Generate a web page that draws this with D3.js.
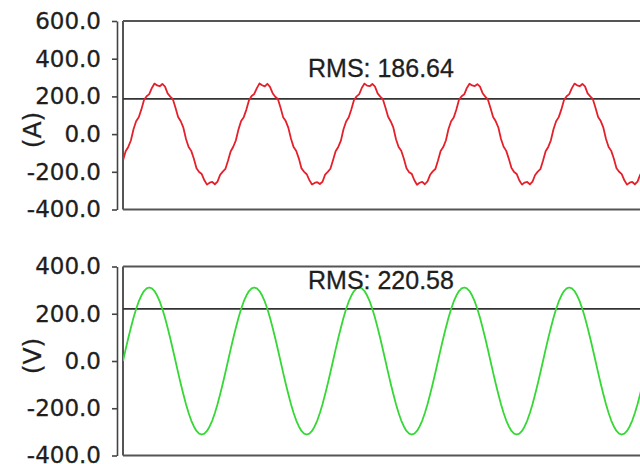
<!DOCTYPE html>
<html>
<head>
<meta charset="utf-8">
<script src="https://cdn.jsdelivr.net/npm/d3@7"></script>
<style>
  html, body { margin: 0; padding: 0; background: #fff; }
  svg { display: block; }
</style>
</head>
<body>
<div id="container"></div>
<script>
const width = 640;
const height = 464;

// sample times in ms (0.5 ms steps, 5 cycles of 50 Hz)
const timeMs = d3.range(201).map(i => i * 0.5);

// current trace (A)
const currentA = [
  -140,-91,-68,-34,26,68,89,131,181,201,212,245,268,258,254,266,252,216,199,185,
  140,91,68,34,-26,-68,-89,-131,-181,-201,-212,-245,-268,-258,-254,-266,-252,-216,-199,-185,
  -141,-92,-67,-33,25,69,90,130,180,202,213,244,269,259,253,267,251,217,198,186,
  141,90,69,33,-25,-69,-90,-130,-182,-200,-213,-244,-267,-259,-255,-265,-253,-215,-200,-184,
  -139,-91,-68,-35,26,67,89,132,181,200,212,246,268,257,254,266,252,216,199,185,
  140,92,67,34,-27,-68,-88,-131,-181,-202,-211,-245,-269,-258,-253,-266,-251,-216,-198,-185,
  -140,-90,-69,-34,27,68,88,131,182,201,211,245,267,258,255,265,252,217,199,184,
  139,91,68,35,-26,-67,-89,-132,-180,-201,-212,-246,-268,-257,-254,-267,-252,-217,-199,-186,
  -141,-91,-68,-33,26,68,90,131,181,201,212,244,268,259,254,266,253,216,200,185,
  140,91,69,34,-26,-68,-89,-131,-181,-200,-212,-245,-268,-258,-254,-266,-252,-216,-199,-185,
  -140
];

// voltage trace (V)
const voltageV = [
  0,49,96,141,183,220,252,277,296,307,311,307,296,277,252,220,183,141,96,49,
  0,-49,-96,-141,-183,-220,-252,-277,-296,-307,-311,-307,-296,-277,-252,-220,-183,-141,-96,-49,
  0,49,96,141,183,220,252,277,296,307,311,307,296,277,252,220,183,141,96,49,
  0,-49,-96,-141,-183,-220,-252,-277,-296,-307,-311,-307,-296,-277,-252,-220,-183,-141,-96,-49,
  0,49,96,141,183,220,252,277,296,307,311,307,296,277,252,220,183,141,96,49,
  0,-49,-96,-141,-183,-220,-252,-277,-296,-307,-311,-307,-296,-277,-252,-220,-183,-141,-96,-49,
  0,49,96,141,183,220,252,277,296,307,311,307,296,277,252,220,183,141,96,49,
  0,-49,-96,-141,-183,-220,-252,-277,-296,-307,-311,-307,-296,-277,-252,-220,-183,-141,-96,-49,
  0,49,96,141,183,220,252,277,296,307,311,307,296,277,252,220,183,141,96,49,
  0,-49,-96,-141,-183,-220,-252,-277,-296,-307,-311,-307,-296,-277,-252,-220,-183,-141,-96,-49,
  0
];

const rmsValues = [186.64, 220.58];
const unitLabels = ["(A)", "(V)"];
const tickValuesA = [600, 400, 200, 0, -200, -400];
const tickLabelsA = ["600.0", "400.0", "200.0", "0.0", "-200.0", "-400.0"];
const tickValuesV = [400, 200, 0, -200, -400];
const tickLabelsV = ["400.0", "200.0", "0.0", "-200.0", "-400.0"];

const panels = [
  { series: currentA, color: "#e5202a", domain: [-400, 600], top: 21, bottom: 209.5,
    ticks: tickValuesA, labels: tickLabelsA, rms: rmsValues[0], unit: unitLabels[0],
    rmsText: "RMS: 186.64", textY: 77, unitY: 130 },
  { series: voltageV, color: "#35d835", domain: [-400, 400], top: 266.5, bottom: 455.5,
    ticks: tickValuesV, labels: tickLabelsV, rms: rmsValues[1], unit: unitLabels[1],
    rmsText: "RMS: 220.58", textY: 289, unitY: 356 }
];

const plotLeft = 123;
const axisX = 117;
const tickFont = "'DejaVu Sans', Verdana, sans-serif";
const textFont = "'Liberation Sans', Arial, sans-serif";

const xScale = d3.scaleLinear()
  .domain([0, 100])
  .range([plotLeft, plotLeft + 525]);

const svg = d3.select("#container")
  .append("svg")
  .attr("width", width)
  .attr("height", height);

svg.append("rect")
  .attr("width", width)
  .attr("height", height)
  .attr("fill", "#fff");

panels.forEach((p, idx) => {
  const yScale = d3.scaleLinear()
    .domain(p.domain)
    .range([p.bottom, p.top]);

  // clip for the trace
  svg.append("clipPath")
    .attr("id", "clip" + idx)
    .append("rect")
    .attr("x", plotLeft)
    .attr("y", p.top)
    .attr("width", width - plotLeft)
    .attr("height", p.bottom - p.top);

  // y axis
  const axis = svg.append("g")
    .attr("transform", `translate(${axisX},0)`)
    .call(d3.axisLeft(yScale)
      .tickValues(p.ticks)
      .tickFormat((d, i) => p.labels[i])
      .tickSize(5)
      .tickSizeOuter(0)
      .tickPadding(11));

  axis.select(".domain")
    .attr("stroke", "#444")
    .attr("stroke-width", 1.6);
  axis.selectAll(".tick line")
    .attr("stroke", "#444")
    .attr("stroke-width", 1.6);
  axis.selectAll(".tick text")
    .attr("fill", "#1e1e1e")
    .attr("stroke", "#1e1e1e")
    .attr("stroke-width", 0.3)
    .style("font-family", tickFont)
    .style("font-size", "23px");

  // unit label
  svg.append("text")
    .attr("transform", `translate(41,${p.unitY}) rotate(-90)`)
    .attr("text-anchor", "middle")
    .attr("fill", "#1e1e1e")
    .attr("stroke", "#1e1e1e")
    .attr("stroke-width", 0.3)
    .style("font-family", tickFont)
    .style("font-size", "25px")
    .text(p.unit);

  // frame lines (open on the right)
  const frame = svg.append("g")
    .attr("stroke", "#555")
    .attr("stroke-width", 2)
    .attr("fill", "none");
  frame.append("line")
    .attr("x1", plotLeft).attr("x2", width)
    .attr("y1", p.top).attr("y2", p.top);
  frame.append("line")
    .attr("x1", plotLeft).attr("x2", width)
    .attr("y1", p.bottom).attr("y2", p.bottom);
  frame.append("line")
    .attr("x1", plotLeft).attr("x2", plotLeft)
    .attr("y1", p.top).attr("y2", p.bottom);

  // RMS line
  svg.append("line")
    .attr("x1", plotLeft).attr("x2", width)
    .attr("y1", yScale(p.rms)).attr("y2", yScale(p.rms))
    .attr("stroke", "#333")
    .attr("stroke-width", 1.8);

  // trace
  const line = d3.line()
    .x((d, i) => xScale(timeMs[i]))
    .y(d => yScale(d));

  svg.append("path")
    .datum(p.series)
    .attr("clip-path", `url(#clip${idx})`)
    .attr("d", line)
    .attr("fill", "none")
    .attr("stroke", p.color)
    .attr("stroke-width", 1.8)
    .attr("stroke-linejoin", "round");

  // RMS text
  svg.append("text")
    .attr("x", 308)
    .attr("y", p.textY)
    .attr("fill", "#1e1e1e")
    .attr("stroke", "#1e1e1e")
    .attr("stroke-width", 0.3)
    .style("font-family", textFont)
    .style("font-size", "25px")
    .text(p.rmsText);
});
</script>
</body>
</html>
